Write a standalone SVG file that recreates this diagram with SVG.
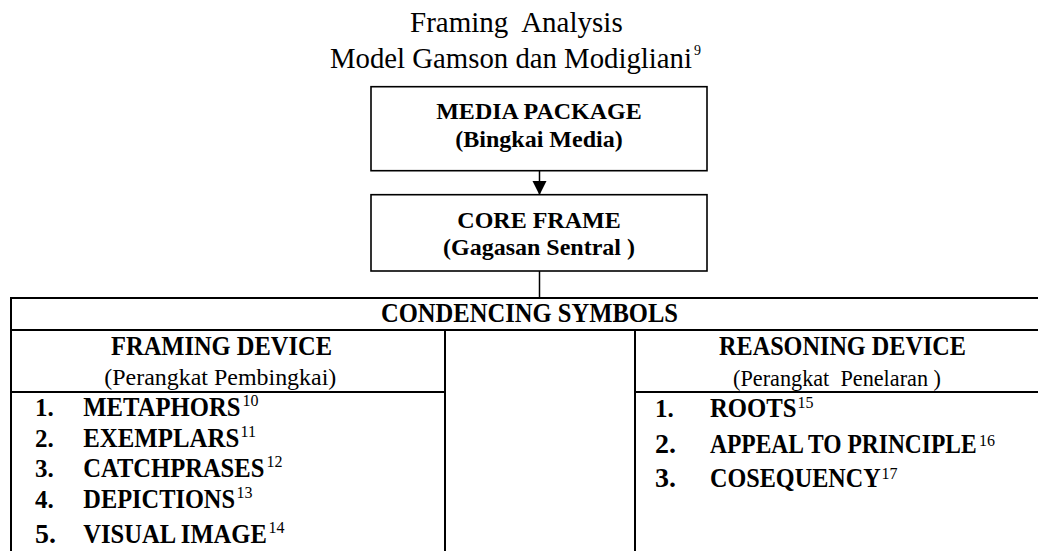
<svg xmlns="http://www.w3.org/2000/svg" width="1038" height="551" viewBox="0 0 1038 551">
  <style>
    .t { font-family: "Liberation Serif", "Times New Roman", serif; fill: #000; }
    .title { font-size: 29px; }
    .bx { font-size: 24px; font-weight: bold; }
    .hd { font-size: 27px; font-weight: bold; }
    .sub { font-size: 24px; }
    .li { font-size: 27px; font-weight: bold; }
    .num { font-size: 25px; font-weight: bold; }
    .numL { font-size: 28px; font-weight: bold; }
    .sup { font-size: 16px; }
    .box { fill: #fff; stroke: #000; stroke-width: 1.6; }
    .conn { stroke: #000; stroke-width: 1.5; fill: none; }
    .grid { stroke: #000; stroke-width: 2; fill: none; }
  </style>
  <defs>
    <marker id="arrow" markerWidth="14" markerHeight="16" refX="13" refY="7" orient="auto" markerUnits="userSpaceOnUse">
      <polygon points="0,0 14,7 0,14" fill="#000"/>
    </marker>
  </defs>
  <rect x="0" y="0" width="1038" height="551" fill="#fff"/>

  <g id="title">
    <text class="t title" x="410" y="31.5" xml:space="preserve">Framing  Analysis</text>
    <text class="t title" x="330" y="67.5" textLength="362" lengthAdjust="spacingAndGlyphs">Model Gamson dan Modigliani</text>
    <text class="t" x="694" y="55" font-size="14">9</text>
  </g>

  <g id="connectors">
    <line class="conn" x1="539.5" y1="170.7" x2="539.5" y2="194" marker-end="url(#arrow)"/>
    <line class="conn" x1="539.5" y1="271" x2="539.5" y2="298"/>
  </g>

  <g id="media-package">
    <rect class="box" x="371" y="86.7" width="336" height="84"/>
    <text class="t bx" x="539" y="119" text-anchor="middle">MEDIA PACKAGE</text>
    <text class="t bx" x="539" y="146.7" text-anchor="middle">(Bingkai Media)</text>
  </g>

  <g id="core-frame">
    <rect class="box" x="371" y="194.7" width="336" height="76.3"/>
    <text class="t bx" x="539" y="227.7" text-anchor="middle">CORE FRAME</text>
    <text class="t bx" x="539" y="255" text-anchor="middle" xml:space="preserve">(Gagasan Sentral )</text>
  </g>

  <g id="condensing-symbols">
    <path class="grid" d="M11,298 H1038 M11,330 H1038 M11,297 V551 M445,330 V551 M635,330 V551 M11,392 H445 M635,392 H1038"/>
    <text class="t hd" x="381" y="322" textLength="297" lengthAdjust="spacingAndGlyphs">CONDENCING SYMBOLS</text>
  </g>

  <g id="framing-device">
    <text class="t hd" x="111" y="355" textLength="221" lengthAdjust="spacingAndGlyphs">FRAMING DEVICE</text>
    <text class="t sub" x="104.3" y="384.5" textLength="232" lengthAdjust="spacingAndGlyphs">(Perangkat Pembingkai)</text>
    <text class="t num" x="35" y="416">1.</text>
    <text class="t li" transform="translate(83.3,416) scale(0.914,1)">METAPHORS</text>
    <text class="t sup" x="242.5" y="405.5">10</text>
    <text class="t num" x="35" y="447">2.</text>
    <text class="t li" transform="translate(83.3,447) scale(0.92,1)">EXEMPLARS</text>
    <text class="t sup" x="240.5" y="436.5">11</text>
    <text class="t num" x="35" y="477">3.</text>
    <text class="t li" transform="translate(83.3,477) scale(0.91,1)">CATCHPRASES</text>
    <text class="t sup" x="266.5" y="466.5">12</text>
    <text class="t num" x="35" y="508">4.</text>
    <text class="t li" transform="translate(83.3,508) scale(0.903,1)">DEPICTIONS</text>
    <text class="t sup" x="236.5" y="497.5">13</text>
    <text class="t numL" x="35" y="543">5.</text>
    <text class="t li" transform="translate(83.3,543) scale(0.91,1)">VISUAL IMAGE</text>
    <text class="t sup" x="268.5" y="532.5">14</text>
  </g>

  <g id="middle-column"></g>

  <g id="reasoning-device">
    <text class="t hd" x="719" y="355" textLength="247" lengthAdjust="spacingAndGlyphs">REASONING DEVICE</text>
    <text class="t sub" x="733" y="386" textLength="208" lengthAdjust="spacingAndGlyphs" xml:space="preserve">(Perangkat  Penelaran )</text>
    <text class="t num" x="655" y="416.7">1.</text>
    <text class="t li" transform="translate(710,416.7) scale(0.917,1)">ROOTS</text>
    <text class="t sup" x="797.5" y="407.5">15</text>
    <text class="t numL" x="655" y="453.3">2.</text>
    <text class="t li" transform="translate(710,453.3) scale(0.87,1)">APPEAL TO PRINCIPLE</text>
    <text class="t sup" x="979" y="445.5">16</text>
    <text class="t numL" x="655" y="486.7">3.</text>
    <text class="t li" transform="translate(710,486.7) scale(0.896,1)">COSEQUENCY</text>
    <text class="t sup" x="881.5" y="478.5">17</text>
  </g>
</svg>
